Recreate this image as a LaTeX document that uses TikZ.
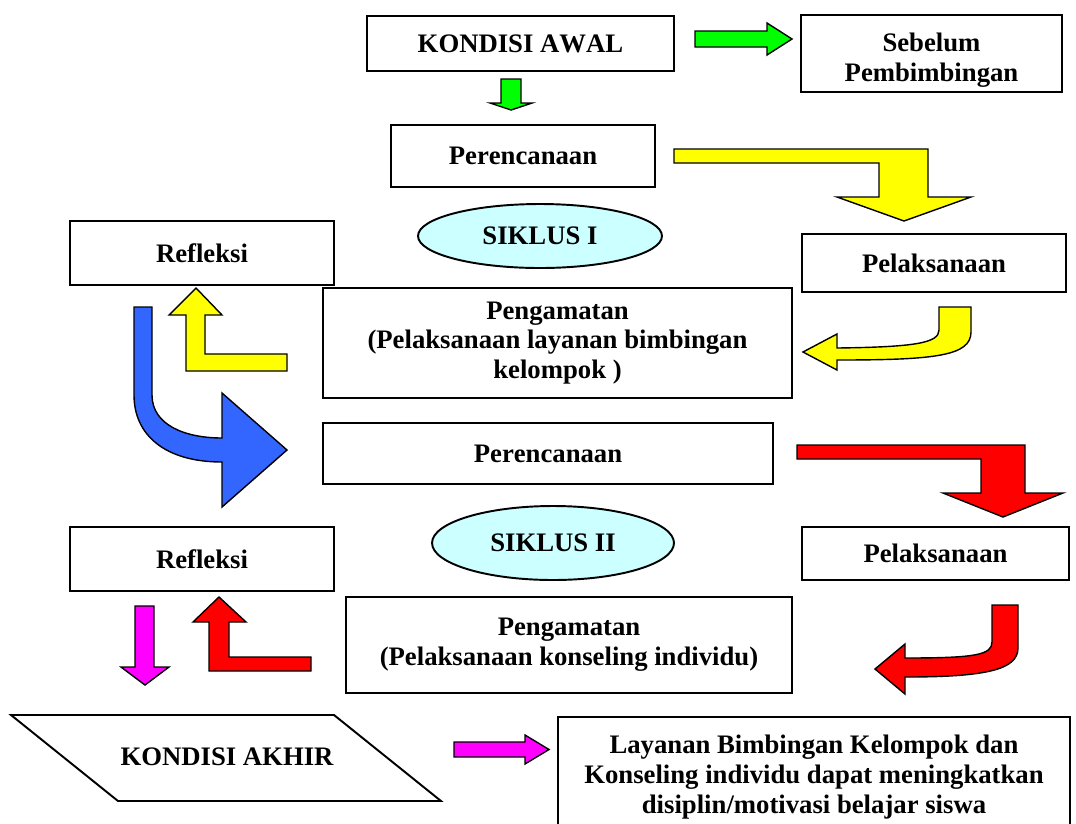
\documentclass[tikz,border=0pt]{standalone}
\usepackage{fontspec}
\setmainfont[Kerning=Off]{Liberation Serif}
\usetikzlibrary{shapes.geometric}
\definecolor{hijau}{RGB}{0,255,0}
\definecolor{kuning}{RGB}{255,255,0}
\definecolor{merah}{RGB}{255,0,0}
\definecolor{ungu}{RGB}{255,0,255}
\definecolor{biru}{RGB}{51,102,255}
\definecolor{birumuda}{RGB}{204,255,255}

\begin{document}
\begin{tikzpicture}[x=0.02cm,y=-0.02cm,
        teks/.style={align=center,font=\fontsize{15.2}{17}\selectfont\bfseries},
        kotak/.style={teks,draw,line width=1.1pt,inner sep=0pt},
        elips/.style={kotak,ellipse,fill=birumuda},
        panah/.style={draw,line width=0.8pt,line join=miter}]
            \useasboundingbox (0,0) rectangle (1076,823);
            % kotak-kotak
            \node[kotak,minimum width=6.14cm,minimum height=1.1cm] (awal) at (520.5,43.5) {KONDISI AWAL};
            \node[kotak,minimum width=5.22cm,minimum height=1.54cm] (sebelum) at (931.5,53.5) {};
            \node[teks] (sebelumteks) at (931.5,60) {Sebelum\\Pembimbingan};
            \node[kotak,minimum width=5.28cm,minimum height=1.24cm] (rencana1) at (523,156) {Perencanaan};
            \node[elips,minimum width=4.88cm,minimum height=1.28cm] (siklus1) at (540,236) {SIKLUS I};
            \node[kotak,minimum width=5.28cm,minimum height=1.16cm] (laksana1) at (934,263) {Pelaksanaan};
            \node[kotak,minimum width=5.28cm,minimum height=1.28cm] (refleksi1) at (202,253) {Refleksi};
            \node[kotak,minimum width=9.38cm,minimum height=2.2cm] (amat1) at (557.5,343) {Pengamatan\\(Pelaksanaan layanan bimbingan\\kelompok )};
            \node[kotak,minimum width=9cm,minimum height=1.22cm] (rencana2) at (548,453.5) {Perencanaan};
            \node[elips,minimum width=4.84cm,minimum height=1.48cm] (siklus2) at (553,543) {SIKLUS II};
            \node[kotak,minimum width=5.34cm,minimum height=1.06cm] (laksana2) at (935.5,553.5) {Pelaksanaan};
            \node[kotak,minimum width=5.28cm,minimum height=1.28cm] (refleksi2) at (202,559) {Refleksi};
            \node[kotak,minimum width=8.92cm,minimum height=1.92cm] (amat2) at (569,645) {Pengamatan\\(Pelaksanaan konseling individu)};
            \draw[line width=1.1pt] (11,715)--(334,715)--(441,801)--(118,801)--cycle;
            \node[teks] (akhir) at (227,757) {KONDISI AKHIR};
            \node[kotak,minimum width=10.24cm,minimum height=2.4cm] (hasil) at (814,777) {Layanan Bimbingan Kelompok dan\\Konseling individu dapat meningkatkan\\disiplin/motivasi belajar siswa};
            % panah hijau
            \filldraw[panah,fill=hijau] (695,31)--(767,31)--(767,23)--(792,39)--(767,55)--(767,47)--(695,47)--cycle;
            \filldraw[panah,fill=hijau] (501,79)--(521,79)--(521,103)--(532,103)--(511,110)--(490,103)--(501,103)--cycle;
            % panah kuning
            \filldraw[panah,fill=kuning] (674,149)--(928,149)--(928,197)--(971,197)--(904,221)--(837,197)--(879,197)--(879,163)--(674,163)--cycle;
            \filldraw[panah,fill=kuning] (939,307)--(971,307)--(971,332) .. controls (971,356) and (935,360) .. (837,360)--(837,370)--(803,352)--(837,334)--(837,348) .. controls (915,347) and (939,343) .. (939,330)--cycle;
            \filldraw[panah,fill=kuning] (196,288)--(222,315)--(205,315)--(205,354)--(287,354)--(287,371)--(186,371)--(186,315)--(169,315)--cycle;
            % panah biru
            \filldraw[panah,fill=biru] (134,307)--(152,307)--(152,395) .. controls (152,425) and (185,438) .. (222,438)--(222,393)--(287,450)--(222,507)--(222,462) .. controls (165,462) and (134,435) .. (134,395)--cycle;
            % panah merah
            \filldraw[panah,fill=merah] (797,445)--(1025,445)--(1025,493)--(1063,493)--(1003,517)--(943,493)--(981,493)--(981,459)--(797,459)--cycle;
            \filldraw[panah,fill=merah] (992,605)--(1018,605)--(1018,648) .. controls (1018,670) and (985,677) .. (905,677)--(905,694)--(875,669)--(905,644)--(905,658) .. controls (975,658) and (992,655) .. (992,642)--cycle;
            \filldraw[panah,fill=merah] (219,597)--(246,622)--(229,622)--(229,657)--(311,657)--(311,671)--(209,671)--(209,622)--(193,622)--cycle;
            % panah ungu
            \filldraw[panah,fill=ungu] (135,606)--(154,606)--(154,667)--(169,667)--(145,685)--(121,667)--(135,667)--cycle;
            \filldraw[panah,fill=ungu] (454,742)--(525,742)--(525,735)--(549,749.5)--(525,764)--(525,757)--(454,757)--cycle;
        \end{tikzpicture}
\end{document}
